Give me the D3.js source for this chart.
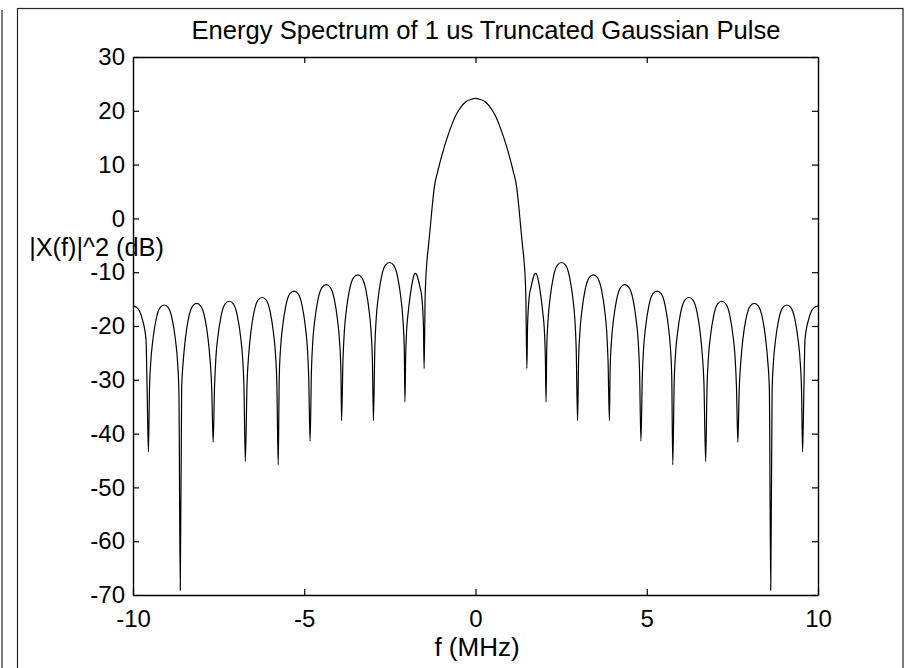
<!DOCTYPE html>
<html>
<head>
<meta charset="utf-8">
<script src="https://cdn.jsdelivr.net/npm/d3@7"></script>
<style>
  body { margin: 0; background: #fff; }
  text { font-family: "Liberation Sans", Arial, sans-serif; fill: #000; }
</style>
</head>
<body>
<svg width="905" height="668"></svg>
<script>
// spectrum, f in MHz, level in dB
let leftSide = [
  [-10.0,-16.3],[-9.90,-16.5],[-9.81,-17.2],[-9.72,-18.9],[-9.62,-22.6],[-9.59,-31.0],
  [-9.55,-43.4],[-9.52,-32.1],[-9.48,-26.6],[-9.42,-22.6],[-9.33,-18.9],[-9.21,-16.6],[-9.09,-16.1],[-8.97,-16.6],[-8.85,-18.9],[-8.76,-22.6],[-8.70,-26.6],[-8.66,-32.1],
  [-8.62,-69.1],[-8.58,-31.8],[-8.53,-26.3],[-8.47,-22.3],[-8.38,-18.6],[-8.26,-16.3],[-8.14,-15.8],[-8.02,-16.3],[-7.90,-18.6],[-7.81,-22.3],[-7.75,-26.3],[-7.70,-31.8],
  [-7.66,-41.6],[-7.62,-31.4],[-7.58,-25.9],[-7.52,-21.9],[-7.43,-18.2],[-7.31,-15.9],[-7.19,-15.4],[-7.07,-15.9],[-6.95,-18.2],[-6.86,-21.9],[-6.80,-25.9],[-6.76,-31.4],
  [-6.72,-45.2],[-6.67,-30.7],[-6.62,-25.2],[-6.56,-21.2],[-6.47,-17.5],[-6.35,-15.2],[-6.23,-14.7],[-6.11,-15.2],[-5.99,-17.5],[-5.90,-21.2],[-5.84,-25.2],[-5.80,-30.7],
  [-5.76,-45.8],[-5.73,-29.5],[-5.69,-24.0],[-5.63,-20.0],[-5.54,-16.3],[-5.42,-14.0],[-5.30,-13.5],[-5.18,-14.0],[-5.06,-16.3],[-4.97,-20.0],[-4.91,-24.0],[-4.87,-29.5],
  [-4.83,-41.4],[-4.79,-28.3],[-4.75,-22.8],[-4.69,-18.8],[-4.60,-15.1],[-4.48,-12.8],[-4.36,-12.3],[-4.24,-12.8],[-4.12,-15.1],[-4.03,-18.8],[-3.97,-22.8],[-3.93,-28.3],
  [-3.91,-37.6],[-3.87,-26.5],[-3.83,-21.0],[-3.77,-17.0],[-3.68,-13.3],[-3.56,-11.0],[-3.44,-10.5],[-3.32,-11.0],[-3.20,-13.3],[-3.11,-17.0],[-3.05,-21.0],[-3.01,-26.5],
  [-2.98,-37.6],[-2.94,-24.2],[-2.90,-18.7],[-2.84,-14.7],[-2.75,-11.0],[-2.63,-8.7],[-2.51,-8.2],[-2.39,-8.7],[-2.27,-11.0],[-2.18,-14.7],[-2.12,-18.7],[-2.08,-24.2],
  [-2.06,-34.1],[-2.04,-26.0],[-2.01,-20.7],[-1.97,-17.8],[-1.91,-14.5],[-1.83,-11.4],[-1.80,-10.6],[-1.76,-10.2],[-1.72,-10.4],[-1.67,-11.4],[-1.62,-12.8],[-1.57,-14.5],[-1.52,-20.0],
  [-1.50,-27.9]
];

let mainLobe = [
  [-1.47,-14.5],[-1.45,-11.0],[-1.42,-8.1],[-1.37,-4.9],[-1.32,-1.6],[-1.26,2.5],[-1.20,5.9],[-1.10,8.8],[-1.00,11.3],[-0.91,13.3],
  [-0.75,16.4],[-0.57,19.2],[-0.40,20.9],[-0.28,21.7],[-0.14,22.1],[0,22.3],[0.14,22.1],[0.28,21.7],[0.40,20.9],
  [0.57,19.2],[0.75,16.4],[0.91,13.3],[1.00,11.3],[1.10,8.8],[1.20,5.9],[1.26,2.5],[1.32,-1.6],[1.37,-4.9],[1.42,-8.1],[1.45,-11.0],[1.47,-14.5]
];

let rightSide = [
  [1.50,-27.9],[1.52,-20.0],[1.57,-14.5],[1.62,-12.8],[1.67,-11.4],[1.72,-10.4],[1.76,-10.2],[1.80,-10.6],[1.83,-11.4],[1.91,-14.5],[1.97,-17.8],[2.01,-20.7],[2.04,-26.0],
  [2.06,-34.1],[2.08,-24.2],[2.12,-18.7],[2.18,-14.7],[2.27,-11.0],[2.39,-8.7],[2.51,-8.2],[2.63,-8.7],[2.75,-11.0],[2.84,-14.7],[2.90,-18.7],[2.94,-24.2],
  [2.98,-37.6],[3.01,-26.5],[3.05,-21.0],[3.11,-17.0],[3.20,-13.3],[3.32,-11.0],[3.44,-10.5],[3.56,-11.0],[3.68,-13.3],[3.77,-17.0],[3.83,-21.0],[3.87,-26.5],
  [3.91,-37.6],[3.93,-28.3],[3.97,-22.8],[4.03,-18.8],[4.12,-15.1],[4.24,-12.8],[4.36,-12.3],[4.48,-12.8],[4.60,-15.1],[4.69,-18.8],[4.75,-22.8],[4.79,-28.3],
  [4.83,-41.4],[4.87,-29.5],[4.91,-24.0],[4.97,-20.0],[5.06,-16.3],[5.18,-14.0],[5.30,-13.5],[5.42,-14.0],[5.54,-16.3],[5.63,-20.0],[5.69,-24.0],[5.73,-29.5],
  [5.76,-45.8],[5.80,-30.7],[5.84,-25.2],[5.90,-21.2],[5.99,-17.5],[6.11,-15.2],[6.23,-14.7],[6.35,-15.2],[6.47,-17.5],[6.56,-21.2],[6.62,-25.2],[6.67,-30.7],
  [6.72,-45.2],[6.76,-31.4],[6.80,-25.9],[6.86,-21.9],[6.95,-18.2],[7.07,-15.9],[7.19,-15.4],[7.31,-15.9],[7.43,-18.2],[7.52,-21.9],[7.58,-25.9],[7.62,-31.4],
  [7.66,-41.6],[7.70,-31.8],[7.75,-26.3],[7.81,-22.3],[7.90,-18.6],[8.02,-16.3],[8.14,-15.8],[8.26,-16.3],[8.38,-18.6],[8.47,-22.3],[8.53,-26.3],[8.58,-31.8],
  [8.62,-69.1],[8.66,-32.1],[8.70,-26.6],[8.76,-22.6],[8.85,-18.9],[8.97,-16.6],[9.09,-16.1],[9.21,-16.6],[9.33,-18.9],[9.42,-22.6],[9.48,-26.6],[9.52,-32.1],
  [9.55,-43.4],[9.59,-31.0],[9.62,-22.6],[9.72,-18.9],[9.81,-17.2],[9.90,-16.5],[10.0,-16.3]
];

let xTicks = [-10, -5, 0, 5, 10];
let yTicks = [-70, -60, -50, -40, -30, -20, -10, 0, 10, 20, 30];

let svg = d3.select('svg');

// figure frame
svg.append('line')
   .attr('x1', 2).attr('x2', 2).attr('y1', 10).attr('y2', 668)
   .attr('stroke', '#2e2020').attr('stroke-width', 1.2);
svg.append('rect')
   .attr('x', 17.5).attr('y', 8.5).attr('width', 885.5).attr('height', 680)
   .attr('fill', 'none').attr('stroke', '#2e2020').attr('stroke-width', 1.2);

let plotLeft = 133, plotRight = 818, plotTop = 57, plotBottom = 595;

let x = d3.scaleLinear().domain([-10, 10]).range([plotLeft, plotRight]);
let y = d3.scaleLinear().domain([-70, 30]).range([plotBottom, plotTop]);

let fmt = d => String(d);

let styleAxis = g => {
  g.select('.domain').attr('stroke', '#000').attr('stroke-width', 1.4);
  g.selectAll('.tick line').attr('stroke', '#000').attr('stroke-width', 1.2);
  g.selectAll('text').attr('font-size', 24).attr('font-family', '"Liberation Sans", Arial, sans-serif');
};

svg.append('g')
   .attr('transform', 'translate(0,' + plotBottom + ')')
   .call(d3.axisBottom(x).tickValues(xTicks).tickFormat(fmt).tickSizeInner(-6).tickSizeOuter(0).tickPadding(15))
   .call(styleAxis);

svg.append('g')
   .attr('transform', 'translate(0,' + plotTop + ')')
   .call(d3.axisTop(x).tickValues(xTicks).tickFormat('').tickSizeInner(-6).tickSizeOuter(0))
   .call(styleAxis);

svg.append('g')
   .attr('transform', 'translate(' + plotLeft + ',0)')
   .call(d3.axisLeft(y).tickValues(yTicks).tickFormat(fmt).tickSizeInner(-6).tickSizeOuter(0).tickPadding(8))
   .call(styleAxis);

svg.append('g')
   .attr('transform', 'translate(' + plotRight + ',0)')
   .call(d3.axisRight(y).tickValues(yTicks).tickFormat('').tickSizeInner(-6).tickSizeOuter(0))
   .call(styleAxis);

let line = d3.line()
             .x(d => x(d[0]))
             .y(d => y(d[1]))
             .curve(d3.curveMonotoneX);

svg.append('path')
   .datum(leftSide.concat(mainLobe, rightSide))
   .attr('d', line)
   .attr('fill', 'none')
   .attr('stroke', '#000')
   .attr('stroke-width', 1.2)
   .attr('stroke-linejoin', 'round');

svg.append('text')
   .attr('x', 486).attr('y', 38.5)
   .attr('text-anchor', 'middle').attr('font-size', 25.6)
   .text('Energy Spectrum of 1 us Truncated Gaussian Pulse');

svg.append('text')
   .attr('x', 477).attr('y', 656)
   .attr('text-anchor', 'middle').attr('font-size', 26)
   .text('f (MHz)');

svg.append('text')
   .attr('x', 96.5).attr('y', 256)
   .attr('text-anchor', 'middle').attr('font-size', 25.3)
   .text('|X(f)|^2 (dB)');
</script>
</body>
</html>
